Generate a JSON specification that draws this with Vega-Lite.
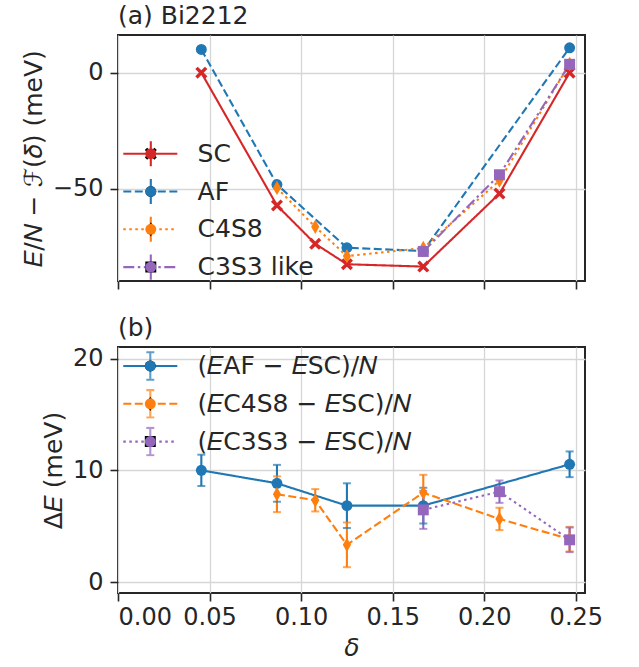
{
  "$schema": "https://vega.github.io/schema/vega-lite/v6.json",
  "background": "white",
  "padding": {"left": 20, "top": 3, "right": 5, "bottom": 5},
  "config": {
    "font": "DejaVu Sans",
    "view": {"stroke": "#262626", "strokeWidth": 2},
    "axis": {"labelFont": "DejaVu Sans", "labelFontSize": 24, "labelColor": "#262626", "titleFont": "DejaVu Sans", "titleFontSize": 25, "titleFontWeight": "normal", "titleColor": "#262626", "titlePadding": 6, "tickColor": "#262626", "tickSize": 8, "tickWidth": 1.6, "gridColor": "#d6d6d6", "gridWidth": 1.3, "domain": false, "labelPadding": 7},
    "title": {"font": "DejaVu Sans", "fontSize": 25, "fontWeight": "normal", "anchor": "start", "color": "#262626", "frame": "group", "offset": 6},
    "legend": {"labelFont": "DejaVu Sans", "labelFontSize": 25, "labelColor": "#262626", "labelLimit": 500, "padding": 0, "rowPadding": 7.8, "clipHeight": 30, "title": null, "orient": "none"}
  },
  "datasets": {
    "top": [
      {"state": "SC", "delta": 0.0455, "energy": 0, "lo": -0.4, "hi": 0.4},
      {"state": "SC", "delta": 0.0868, "energy": -57.1, "lo": -57.5, "hi": -56.7},
      {"state": "SC", "delta": 0.1077, "energy": -73.6, "lo": -74.0, "hi": -73.2},
      {"state": "SC", "delta": 0.125, "energy": -82.4, "lo": -82.8, "hi": -82.0},
      {"state": "SC", "delta": 0.1667, "energy": -83.4, "lo": -83.8, "hi": -83.0},
      {"state": "SC", "delta": 0.2083, "energy": -52.0, "lo": -52.4, "hi": -51.6},
      {"state": "SC", "delta": 0.2466, "energy": 0, "lo": -0.4, "hi": 0.4},
      {"state": "AF", "delta": 0.0455, "energy": 10.0, "lo": 9.6, "hi": 10.4},
      {"state": "AF", "delta": 0.0868, "energy": -48.1, "lo": -48.5, "hi": -47.7},
      {"state": "AF", "delta": 0.125, "energy": -75.3, "lo": -75.7, "hi": -74.9},
      {"state": "AF", "delta": 0.1667, "energy": -76.7, "lo": -77.1, "hi": -76.3},
      {"state": "AF", "delta": 0.2466, "energy": 10.7, "lo": 10.3, "hi": 11.1},
      {"state": "C4S8", "delta": 0.0868, "energy": -49.6, "lo": -50.0, "hi": -49.2},
      {"state": "C4S8", "delta": 0.1077, "energy": -66.3, "lo": -66.7, "hi": -65.9},
      {"state": "C4S8", "delta": 0.125, "energy": -78.9, "lo": -79.3, "hi": -78.5},
      {"state": "C4S8", "delta": 0.1667, "energy": -75.4, "lo": -75.8, "hi": -75.0},
      {"state": "C4S8", "delta": 0.2083, "energy": -46.4, "lo": -46.8, "hi": -46.0},
      {"state": "C4S8", "delta": 0.2466, "energy": 3.8, "lo": 3.4, "hi": 4.2},
      {"state": "C3S3 like", "delta": 0.1667, "energy": -76.9, "lo": -77.3, "hi": -76.5},
      {"state": "C3S3 like", "delta": 0.2083, "energy": -43.9, "lo": -44.3, "hi": -43.5},
      {"state": "C3S3 like", "delta": 0.2466, "energy": 3.6, "lo": 3.2, "hi": 4.0}
    ],
    "bottom": [
      {"pair": "AF", "delta": 0.0455, "diff": 10.0, "lo": 8.6, "hi": 11.4},
      {"pair": "AF", "delta": 0.0868, "diff": 8.84, "lo": 7.19, "hi": 10.49},
      {"pair": "AF", "delta": 0.125, "diff": 6.84, "lo": 4.84, "hi": 8.84},
      {"pair": "AF", "delta": 0.1667, "diff": 6.84, "lo": 5.24, "hi": 8.44},
      {"pair": "AF", "delta": 0.2466, "diff": 10.54, "lo": 9.39, "hi": 11.69},
      {"pair": "C4S8", "delta": 0.0868, "diff": 7.86, "lo": 6.26, "hi": 9.46},
      {"pair": "C4S8", "delta": 0.1077, "diff": 7.32, "lo": 6.32, "hi": 8.32},
      {"pair": "C4S8", "delta": 0.125, "diff": 3.33, "lo": 1.33, "hi": 5.33},
      {"pair": "C4S8", "delta": 0.1667, "diff": 8.0, "lo": 6.4, "hi": 9.6},
      {"pair": "C4S8", "delta": 0.2083, "diff": 5.65, "lo": 4.65, "hi": 6.65},
      {"pair": "C4S8", "delta": 0.2466, "diff": 3.84, "lo": 2.74, "hi": 4.94},
      {"pair": "C3S3", "delta": 0.1667, "diff": 6.46, "lo": 4.76, "hi": 8.16},
      {"pair": "C3S3", "delta": 0.2083, "diff": 8.09, "lo": 7.09, "hi": 9.09},
      {"pair": "C3S3", "delta": 0.2466, "diff": 3.78, "lo": 2.68, "hi": 4.88}
    ]
  },
  "spacing": 23,
  "resolve": {
    "scale": {"x": "independent", "y": "independent", "color": "independent", "fill": "independent", "stroke": "independent", "shape": "independent", "strokeDash": "independent"},
    "legend": {"color": "independent", "fill": "independent", "stroke": "independent", "shape": "independent", "strokeDash": "independent"}
  },
  "vconcat": [
    {
      "width": 467,
      "height": 246,
      "title": {"text": "(a) Bi2212"},
      "data": {"name": "top"},
      "encoding": {
        "x": {"field": "delta", "type": "quantitative", "scale": {"domain": [0, 0.255], "nice": false, "zero": false}, "axis": {"values": [0, 0.05, 0.1, 0.15, 0.2, 0.25], "labels": false, "title": null}}
      },
      "layer": [
        {
          "mark": {"type": "rule", "strokeWidth": 2.1},
          "encoding": {
            "y": {"field": "lo", "type": "quantitative", "scale": {"domain": [-89.6, 16.2], "nice": false, "zero": false}, "axis": {"values": [-50, 0], "title": "𝐸/𝑁 − ℱ(𝛿) (meV)"}},
            "y2": {"field": "hi"},
            "color": {"field": "state", "type": "nominal", "scale": {"range": ["#1f77b4", "#9467bd", "#ff7f0e", "#d62728"]}, "legend": {"values": ["SC", "AF", "C4S8", "C3S3 like"], "legendX": 20.3, "legendY": 103.7, "symbolType": "M0,-2.2L0,2.2", "symbolSize": 130, "symbolStrokeWidth": 2.1, "labelExpr": "''"}}
          }
        },
        {
          "mark": {"type": "line", "strokeWidth": 2.1},
          "encoding": {
            "y": {"field": "energy", "type": "quantitative", "scale": {"domain": [-89.6, 16.2], "nice": false, "zero": false}, "axis": {"values": [-50, 0], "title": "𝐸/𝑁 − ℱ(𝛿) (meV)"}},
            "stroke": {"field": "state", "type": "nominal", "scale": {"domain": ["SC", "AF", "C4S8", "C3S3 like"], "range": ["#d62728", "#1f77b4", "#ff7f0e", "#9467bd"]}, "legend": {"legendX": 3.6, "legendY": 103.7, "symbolType": "M-1,0L4,0", "symbolSize": 467, "symbolStrokeWidth": 2.1, "labelOffset": 51}},
            "strokeDash": {"field": "state", "type": "nominal", "scale": {"domain": ["SC", "AF", "C4S8", "C3S3 like"], "range": [[1, 0], [8, 3.5], [2.5, 3.5], [11, 3.5, 2.5, 3.5]]}, "legend": {"legendX": 3.6, "legendY": 103.7, "symbolType": "M-1,0L4,0", "symbolSize": 467, "symbolStrokeWidth": 2.1, "labelOffset": 51}}
          }
        },
        {
          "mark": {"type": "point", "filled": true, "size": 120, "opacity": 1},
          "encoding": {
            "y": {"field": "energy", "type": "quantitative", "scale": {"domain": [-89.6, 16.2], "nice": false, "zero": false}, "axis": {"values": [-50, 0], "title": "𝐸/𝑁 − ℱ(𝛿) (meV)"}},
            "fill": {"field": "state", "type": "nominal", "sort": ["SC", "AF", "C4S8", "C3S3 like"], "scale": {"range": ["#d62728", "#1f77b4", "#ff7f0e", "#9467bd"]}, "legend": {"legendX": 20.3, "legendY": 103.7, "symbolSize": 120, "symbolStrokeWidth": 0, "labelExpr": "''"}},
            "shape": {"field": "state", "type": "nominal", "sort": ["SC", "AF", "C4S8", "C3S3 like"], "scale": {"range": ["M-1.1,-0.66L-0.66,-1.1L0,-0.44L0.66,-1.1L1.1,-0.66L0.44,0L1.1,0.66L0.66,1.1L0,0.44L-0.66,1.1L-1.1,0.66L-0.44,0Z", "circle", "M0,-1.3L0.75,0L0,1.3L-0.75,0Z", "square"]}, "legend": {"legendX": 20.3, "legendY": 103.7, "symbolSize": 120, "symbolStrokeWidth": 0, "labelExpr": "''"}}
          }
        }
      ]
    },
    {
      "width": 467,
      "height": 246,
      "title": {"text": "(b)"},
      "data": {"name": "bottom"},
      "encoding": {
        "x": {"field": "delta", "type": "quantitative", "scale": {"domain": [0, 0.255], "nice": false, "zero": false}, "axis": {"values": [0, 0.05, 0.1, 0.15, 0.2, 0.25], "format": ".2f", "title": "δ", "titleFontStyle": "italic", "labelPadding": 4}}
      },
      "layer": [
        {
          "mark": {"type": "rule", "strokeWidth": 2.1},
          "encoding": {
            "y": {"field": "lo", "type": "quantitative", "scale": {"domain": [-0.98, 21.04], "nice": false, "zero": false}, "axis": {"values": [0, 10, 20], "title": "Δ𝐸 (meV)"}},
            "y2": {"field": "hi"},
            "color": {"field": "pair", "type": "nominal", "scale": {"range": ["#1f77b4", "#9467bd", "#ff7f0e"]}, "legend": {"values": ["AF", "C4S8", "C3S3"], "legendX": 19.8, "legendY": 4, "symbolType": "M0,-2.4L0,2.4M-0.7,-2.4L0.7,-2.4M-0.7,2.4L0.7,2.4", "symbolSize": 130, "symbolStrokeWidth": 2.1, "labelExpr": "''"}}
          }
        },
        {
          "mark": {"type": "tick", "orient": "horizontal", "size": 8, "thickness": 2},
          "encoding": {
            "y": {"field": "lo", "type": "quantitative", "scale": {"domain": [-0.98, 21.04], "nice": false, "zero": false}, "axis": {"values": [0, 10, 20], "title": "Δ𝐸 (meV)"}},
            "color": {"field": "pair", "type": "nominal"}
          }
        },
        {
          "mark": {"type": "tick", "orient": "horizontal", "size": 8, "thickness": 2},
          "encoding": {
            "y": {"field": "hi", "type": "quantitative", "scale": {"domain": [-0.98, 21.04], "nice": false, "zero": false}, "axis": {"values": [0, 10, 20], "title": "Δ𝐸 (meV)"}},
            "color": {"field": "pair", "type": "nominal"}
          }
        },
        {
          "mark": {"type": "line", "strokeWidth": 2.1},
          "encoding": {
            "y": {"field": "diff", "type": "quantitative", "scale": {"domain": [-0.98, 21.04], "nice": false, "zero": false}, "axis": {"values": [0, 10, 20], "title": "Δ𝐸 (meV)"}},
            "stroke": {"field": "pair", "type": "nominal", "scale": {"domain": ["AF", "C4S8", "C3S3"], "range": ["#1f77b4", "#ff7f0e", "#9467bd"]}, "legend": {"legendX": 3.6, "legendY": 4, "symbolType": "M-1,0L4,0", "symbolSize": 467, "symbolStrokeWidth": 2.1, "labelOffset": 51, "labelExpr": "datum.label == 'AF' ? '(𝐸AF − 𝐸SC)/𝑁' : datum.label == 'C4S8' ? '(𝐸C4S8 − 𝐸SC)/𝑁' : '(𝐸C3S3 − 𝐸SC)/𝑁'"}},
            "strokeDash": {"field": "pair", "type": "nominal", "scale": {"domain": ["AF", "C4S8", "C3S3"], "range": [[1, 0], [8, 3.5], [2.5, 3.5]]}, "legend": {"legendX": 3.6, "legendY": 4, "symbolType": "M-1,0L4,0", "symbolSize": 467, "symbolStrokeWidth": 2.1, "labelOffset": 51, "labelExpr": "datum.label == 'AF' ? '(𝐸AF − 𝐸SC)/𝑁' : datum.label == 'C4S8' ? '(𝐸C4S8 − 𝐸SC)/𝑁' : '(𝐸C3S3 − 𝐸SC)/𝑁'"}}
          }
        },
        {
          "mark": {"type": "point", "filled": true, "size": 120, "opacity": 1},
          "encoding": {
            "y": {"field": "diff", "type": "quantitative", "scale": {"domain": [-0.98, 21.04], "nice": false, "zero": false}, "axis": {"values": [0, 10, 20], "title": "Δ𝐸 (meV)"}},
            "fill": {"field": "pair", "type": "nominal", "sort": ["AF", "C4S8", "C3S3"], "scale": {"range": ["#1f77b4", "#ff7f0e", "#9467bd"]}, "legend": {"legendX": 19.8, "legendY": 4, "symbolSize": 120, "symbolStrokeWidth": 0, "labelExpr": "''"}},
            "shape": {"field": "pair", "type": "nominal", "sort": ["AF", "C4S8", "C3S3"], "scale": {"range": ["circle", "M0,-1.3L0.75,0L0,1.3L-0.75,0Z", "square"]}, "legend": {"legendX": 19.8, "legendY": 4, "symbolSize": 120, "symbolStrokeWidth": 0, "labelExpr": "''"}}
          }
        }
      ]
    }
  ]
}
